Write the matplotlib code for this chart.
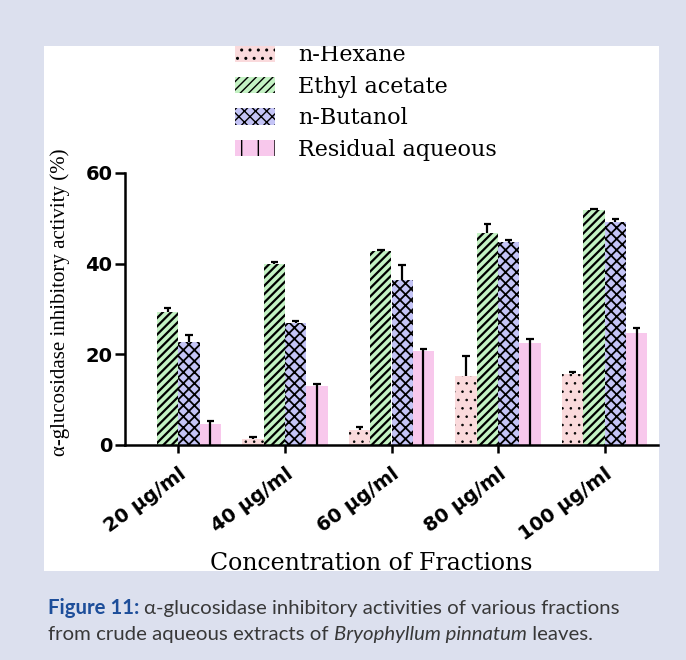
import matplotlib
matplotlib.use("Agg")
import matplotlib.pyplot as plt
from matplotlib.patches import Rectangle, Patch
import numpy as np

# alpha-glucosidase inhibition (%) per fraction, mean and SD
concentrations = ["20 µg/ml", "40 µg/ml", "60 µg/ml", "80 µg/ml", "100 µg/ml"]
fractions = ["n-Hexane", "Ethyl acetate", "n-Butanol", "Residual aqueous"]

hexane = [0.0, 1.4, 3.3, 15.2, 15.6]
hexane_sd = [0.0, 0.3, 0.7, 4.4, 0.6]
ethyl = [29.4, 39.9, 42.8, 46.8, 51.8]
ethyl_sd = [0.8, 0.4, 0.3, 1.9, 0.2]
butanol = [22.8, 27.0, 36.4, 44.7, 49.2]
butanol_sd = [1.4, 0.4, 3.2, 0.5, 0.7]
residual = [4.6, 13.0, 20.7, 22.4, 24.7]
residual_sd = [0.8, 0.4, 0.4, 0.9, 1.2]

means = [hexane, ethyl, butanol, residual]
sds = [hexane_sd, ethyl_sd, butanol_sd, residual_sd]
colors = ["#FADADC", "#C4F2C4", "#C4C4F6", "#F8C8EC"]
hatches = ["..", "////", "xxx", ""]
legend_hatches = ["..", "////", "xxx", "|"]
hatch_widths = [0.6, 1.6, 1.3, 1.2]

BG = "#DCE0EE"


def set_hatch_width(patch, lw):
    if hasattr(patch, "set_hatch_linewidth"):
        patch.set_hatch_linewidth(lw)


fig = plt.figure(figsize=(6.86, 6.6), dpi=100, facecolor=BG)

# white panel behind the chart
fig.add_artist(Rectangle((44 / 686, 1 - 571 / 660), 615 / 686, 525 / 660,
                         transform=fig.transFigure, facecolor="white",
                         edgecolor="none", zorder=-5))

ax = fig.add_axes([125 / 686, 1 - 445 / 660, 533 / 686, 272 / 660])
ax.set_facecolor("none")

x = np.arange(len(concentrations))
w = 0.2
cap = 0.035
for i, (vals, err) in enumerate(zip(means, sds)):
    pos = x + (i - 1.5) * w
    with plt.rc_context({"hatch.linewidth": hatch_widths[i]}):
        bars = ax.bar(pos, vals, width=w, color=colors[i], hatch=hatches[i],
                      edgecolor="black", linewidth=0, zorder=2)
    for b in bars:
        set_hatch_width(b, hatch_widths[i])
    tops = np.array(vals) + np.array(err)
    # residual bars show the error line running through the whole bar
    base = np.zeros(len(vals)) if i == 3 else np.array(vals)
    keep = np.array(vals) > 0
    ax.vlines(pos[keep], base[keep], tops[keep], color="black", lw=1.6, zorder=3)
    ax.hlines(tops[keep], pos[keep] - cap, pos[keep] + cap, color="black",
              lw=1.6, zorder=3)

ax.set_xlim(-0.5, 4.5)
ax.set_ylim(0, 60)
ax.set_yticks([0, 20, 40, 60])
ax.set_xticks(x)
ax.set_xticklabels(concentrations, rotation=36, ha="right",
                   rotation_mode="anchor", fontweight="bold", fontsize=14)
for lab in ax.get_yticklabels():
    lab.set_fontweight("bold")
    lab.set_fontsize(14)

for s in ["top", "right"]:
    ax.spines[s].set_visible(False)
for s in ["left", "bottom"]:
    ax.spines[s].set_linewidth(1.8)
ax.tick_params(axis="y", length=7, width=1.8, pad=2)
ax.tick_params(axis="x", length=6, width=1.8, pad=8)

ax.set_ylabel("α-glucosidase inhibitory activity (%)", family="Liberation Serif",
              fontsize=15)
ax.yaxis.set_label_coords(-0.103, 0.526)
ax.set_xlabel("Concentration of Fractions", family="DejaVu Serif", fontsize=17)
ax.xaxis.set_label_coords((371 - 125) / 533, (445 - 570) / 272)
ax.xaxis.label.set_va("baseline")

handles = []
for c, h, hw in zip(colors, legend_hatches, hatch_widths):
    with plt.rc_context({"hatch.linewidth": hw}):
        p = Patch(facecolor=c, hatch=h, edgecolor="black", linewidth=0)
    set_hatch_width(p, hw)
    handles.append(p)
leg = fig.legend(handles, fractions, loc="upper left",
                 bbox_to_anchor=(235 / 686, 1 - 44 / 660), frameon=False,
                 borderpad=0, borderaxespad=0, handlelength=1.8,
                 handleheight=0.77, handletextpad=1.04, labelspacing=0.43,
                 prop={"family": "DejaVu Serif", "size": 16})

# background strips cover whatever spills over the panel edges
fig.add_artist(Rectangle((0, 1 - 46 / 660), 1, 46 / 660, transform=fig.transFigure,
                         facecolor=BG, edgecolor="none", zorder=20))
fig.add_artist(Rectangle((0, 0), 1, 1 - 571 / 660, transform=fig.transFigure,
                         facecolor=BG, edgecolor="none", zorder=20))


def draw_runs(x0, y0, runs):
    renderer = fig.canvas.get_renderer()
    xpos = x0
    for text, kw in runs:
        t = fig.text(xpos, y0, text, va="baseline", ha="left", zorder=21,
                     family="Lato", fontsize=14.7, **kw)
        xpos += t.get_window_extent(renderer).width / fig.bbox.width


dark = "#383838"
draw_runs(48 / 686, 1 - 614 / 660, [
    ("Figure 11: ", {"color": "#1D4E9A", "fontweight": "bold"}),
    ("α-glucosidase inhibitory activities of various fractions", {"color": dark}),
])
draw_runs(48 / 686, 1 - 640 / 660, [
    ("from crude aqueous extracts of ", {"color": dark}),
    ("Bryophyllum pinnatum", {"color": dark, "style": "italic"}),
    (" leaves.", {"color": dark}),
])

fig.savefig("out.png", dpi=100, facecolor=BG)
